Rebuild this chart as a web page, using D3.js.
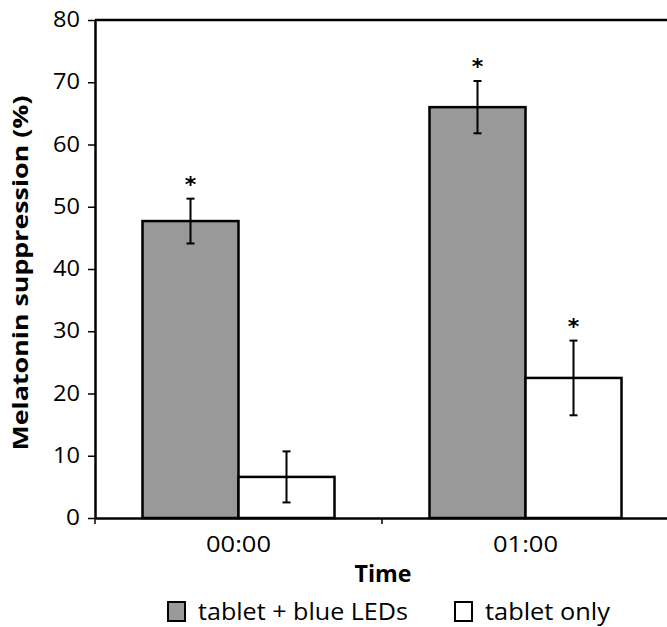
<!DOCTYPE html>
<html>
<head>
<meta charset="utf-8">
<script src="https://cdn.jsdelivr.net/npm/d3@7"></script>
<style>
  html, body { margin: 0; padding: 0; background: #fff; }
  svg { display: block; font-family: "Open Sans", "Noto Sans", sans-serif; }
</style>
</head>
<body>
<svg id="chart" width="667" height="627"></svg>
<script>
const categories = ["00:00", "01:00"];
const seriesNames = ["tablet + blue LEDs", "tablet only"];
const seriesColors = ["#999999", "#ffffff"];
const blueLEDs = [47.7, 66.0];
const blueLEDsErr = [3.6, 4.2];
const tabletOnly = [6.6, 22.5];
const tabletOnlyErr = [4.1, 6.0];
const significant = [[true, true], [false, true]]; // [series][category]
const yTicks = [0, 10, 20, 30, 40, 50, 60, 70, 80];

const svg = d3.select("#chart");
const x0 = d3.scaleBand().domain(categories).range([95, 669]).paddingInner(0).paddingOuter(0);
const y = d3.scaleLinear().domain([0, 80]).range([518, 20]);
const x1 = d3.scaleBand().domain(seriesNames).range([-96, 96]);

const data = [];
categories.forEach((c, i) => {
  data.push({cat: c, s: 0, v: blueLEDs[i], e: blueLEDsErr[i], sig: significant[0][i]});
  data.push({cat: c, s: 1, v: tabletOnly[i], e: tabletOnlyErr[i], sig: significant[1][i]});
});
const cx = d => x0(d.cat) + x0.bandwidth() / 2;

// top frame line
svg.append("line").attr("x1", 95).attr("x2", 667).attr("y1", y(80)).attr("y2", y(80))
  .attr("stroke", "#000").attr("stroke-width", 2.5);

// bars
svg.append("g").selectAll("rect").data(data).join("rect")
  .attr("x", d => cx(d) + x1(seriesNames[d.s]))
  .attr("width", x1.bandwidth())
  .attr("y", d => y(d.v))
  .attr("height", d => y(0) - y(d.v))
  .attr("fill", d => seriesColors[d.s])
  .attr("stroke", "#000").attr("stroke-width", 2.5);

// error bars
const eg = svg.append("g").attr("stroke", "#000").attr("stroke-width", 2);
data.forEach(d => {
  const xc = cx(d) + x1(seriesNames[d.s]) + x1.bandwidth() / 2;
  eg.append("line").attr("x1", xc).attr("x2", xc).attr("y1", y(d.v + d.e)).attr("y2", y(d.v - d.e));
  [d.v + d.e, d.v - d.e].forEach(v => {
    eg.append("line").attr("x1", xc - 4).attr("x2", xc + 4).attr("y1", y(v)).attr("y2", y(v));
  });
  if (d.sig) {
    svg.append("text").attr("x", xc).attr("y", y(d.v + d.e) - 7)
      .attr("text-anchor", "middle").attr("font-size", 22).attr("font-weight", "bold")
      .attr("font-family", "DejaVu Sans")
      .text("*");
  }
});

// y axis
const yAxis = svg.append("g").attr("transform", "translate(95,0)")
  .call(d3.axisLeft(y).tickValues(yTicks).tickSize(7).tickPadding(8).tickSizeOuter(0));
yAxis.select(".domain").attr("stroke-width", 2.5);
yAxis.selectAll(".tick line").attr("stroke-width", 1.5);
yAxis.selectAll("text").attr("font-size", 21).attr("fill", "#000").attr("font-family", "Open Sans")
  .attr("textLength", d => d >= 10 ? 27 : 14).attr("lengthAdjust", "spacingAndGlyphs");

// x axis
const xAxis = svg.append("g").attr("transform", `translate(0,${y(0)})`)
  .call(d3.axisBottom(x0).tickSize(0).tickPadding(19).tickSizeOuter(0));
xAxis.select(".domain").attr("stroke-width", 2.5);
xAxis.selectAll("text").attr("font-size", 21).attr("fill", "#000").attr("font-family", "Open Sans")
  .attr("textLength", 65).attr("lengthAdjust", "spacingAndGlyphs");
// boundary ticks between categories
svg.append("g").selectAll("line").data([x0.range()[0], x0(categories[1])]).join("line")
  .attr("x1", d => d).attr("x2", d => d).attr("y1", y(0)).attr("y2", y(0) + 6)
  .attr("stroke", "#000").attr("stroke-width", 1.5);

// axis titles
svg.append("text").attr("transform", "translate(28,273) rotate(-90)")
  .attr("text-anchor", "middle").attr("font-size", 21).attr("font-weight", "bold")
  .attr("textLength", 355).attr("lengthAdjust", "spacingAndGlyphs")
  .text("Melatonin suppression (%)");
svg.append("text").attr("x", 383).attr("y", 582)
  .attr("text-anchor", "middle").attr("font-size", 23).attr("font-weight", "bold")
  .attr("textLength", 57).attr("lengthAdjust", "spacingAndGlyphs")
  .text("Time");

// legend
const legendX = [168, 455];
const legendW = [210, 125];
const lg = svg.append("g");
seriesNames.forEach((n, i) => {
  lg.append("rect").attr("x", legendX[i]).attr("y", 602).attr("width", 17).attr("height", 19)
    .attr("fill", seriesColors[i]).attr("stroke", "#000").attr("stroke-width", 2);
  lg.append("text").attr("x", legendX[i] + 30).attr("y", 620).attr("font-size", 24)
    .attr("textLength", legendW[i]).attr("lengthAdjust", "spacingAndGlyphs").text(n);
});
</script>
</body>
</html>
